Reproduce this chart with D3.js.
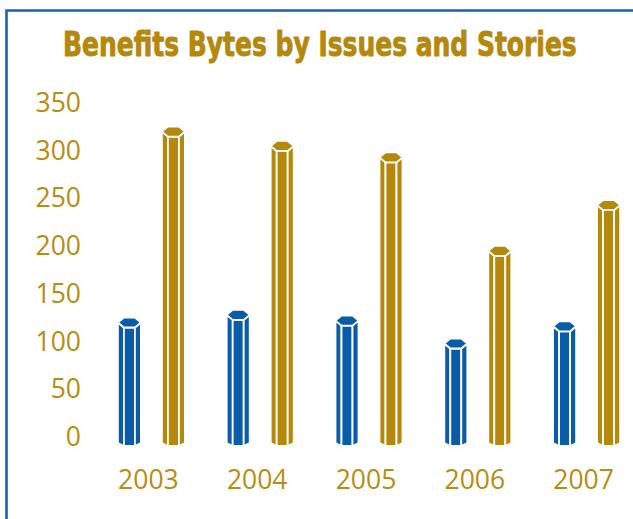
<!DOCTYPE html>
<html>
<head>
<meta charset="utf-8">
<script src="https://cdn.jsdelivr.net/npm/d3@7"></script>
<style>
  html, body { margin: 0; padding: 0; background: #ffffff; }
  svg { display: block; }
</style>
</head>
<body>
<svg id="chart" width="633" height="519"></svg>
<script>
// Yearly counts for the two series
const years = ["2003", "2004", "2005", "2006", "2007"];
const issues = [120, 128, 122, 98, 116];
const stories = [320, 305, 293, 195, 243];
const seriesNames = ["Issues", "Stories"];
const yTicks = [0, 50, 100, 150, 200, 250, 300, 350];

const blue = "#0a5ca8";
const gold = "#b5880b";
const labelGold = "#b98c12";

const svg = d3.select("#chart");
const W = 633, H = 519;

// Frame: top and left rule
svg.append("path")
  .attr("d", `M6.5,${H} V10.5 H${W}`)
  .attr("fill", "none")
  .attr("stroke", "#1462b2")
  .attr("stroke-width", 2.6);

// Title, squeezed horizontally to a condensed look
const titleG = svg.append("g");
const title = titleG.append("text")
  .attr("x", 0)
  .attr("y", 0)
  .attr("font-family", "'DejaVu Sans Condensed', 'DejaVu Sans', sans-serif")
  .attr("font-weight", "bold")
  .attr("font-size", 34)
  .attr("fill", gold)
  .attr("stroke", gold)
  .attr("stroke-width", 0.9)
  .attr("stroke-linejoin", "round")
  .text("Benefits Bytes by Issues and Stories");
const natural = title.node().getComputedTextLength();
const sx = 514 / natural;
titleG.attr("transform", `translate(63,56) scale(${sx},1)`);

// Scales
const x = d3.scaleBand().domain(years).range([97, 641]).padding(0);
const xs = d3.scaleBand().domain(seriesNames).range([-44, 44]);
const y = d3.scaleLinear().domain([0, 350]).range([437, 103]);

// Axes (labels only)
const yAxis = svg.append("g")
  .attr("transform", "translate(81,0)")
  .call(d3.axisLeft(y).tickValues(yTicks).tickSize(0).tickPadding(0).tickFormat(d3.format("d")));
yAxis.select(".domain").remove();
yAxis.selectAll("text")
  .attr("font-family", "'Open Sans', 'Noto Sans', sans-serif")
  .attr("font-size", 26.5)
  .attr("font-weight", 400)
  .attr("fill", labelGold);

const xAxis = svg.append("g")
  .attr("transform", "translate(0,470)")
  .call(d3.axisBottom(x).tickSize(0).tickPadding(0));
xAxis.select(".domain").remove();
xAxis.selectAll("text")
  .attr("dy", "0.71em")
  .attr("dx", -3)
  .attr("font-family", "'Open Sans', 'Noto Sans', sans-serif")
  .attr("font-size", 26.5)
  .attr("font-weight", 400)
  .attr("fill", labelGold);

// Hexagonal prism columns
const half = 11.5, inner = 5.5, capH = 5, chamfer = 3;
const floorY = y(0) + 9;

const rows = [];
years.forEach((yr, i) => {
  rows.push({ year: yr, series: "Issues", value: issues[i], color: blue });
  rows.push({ year: yr, series: "Stories", value: stories[i], color: gold });
});

const bars = svg.append("g").selectAll("g.bar")
  .data(rows)
  .join("g")
  .attr("class", "bar")
  .attr("fill", d => d.color)
  .attr("stroke", "#ffffff")
  .attr("stroke-width", 1.8)
  .attr("stroke-linejoin", "round");

function faces(d) {
  const cx = x(d.year) + x.bandwidth() / 2 + xs(d.series) + xs.bandwidth() / 2;
  const cy = y(d.value);
  const b = floorY;
  return [
    // left face
    [[cx - half, cy], [cx - inner, cy + capH], [cx - inner, b], [cx - half, b - chamfer]],
    // front face
    [[cx - inner, cy + capH], [cx + inner, cy + capH], [cx + inner, b], [cx - inner, b]],
    // right face
    [[cx + inner, cy + capH], [cx + half, cy], [cx + half, b - chamfer], [cx + inner, b]],
    // top cap
    [[cx - half, cy], [cx - inner, cy - capH], [cx + inner, cy - capH], [cx + half, cy],
     [cx + inner, cy + capH], [cx - inner, cy + capH]]
  ];
}

bars.selectAll("path")
  .data(d => faces(d))
  .join("path")
  .attr("d", pts => d3.line()(pts) + "Z");
</script>
</body>
</html>
